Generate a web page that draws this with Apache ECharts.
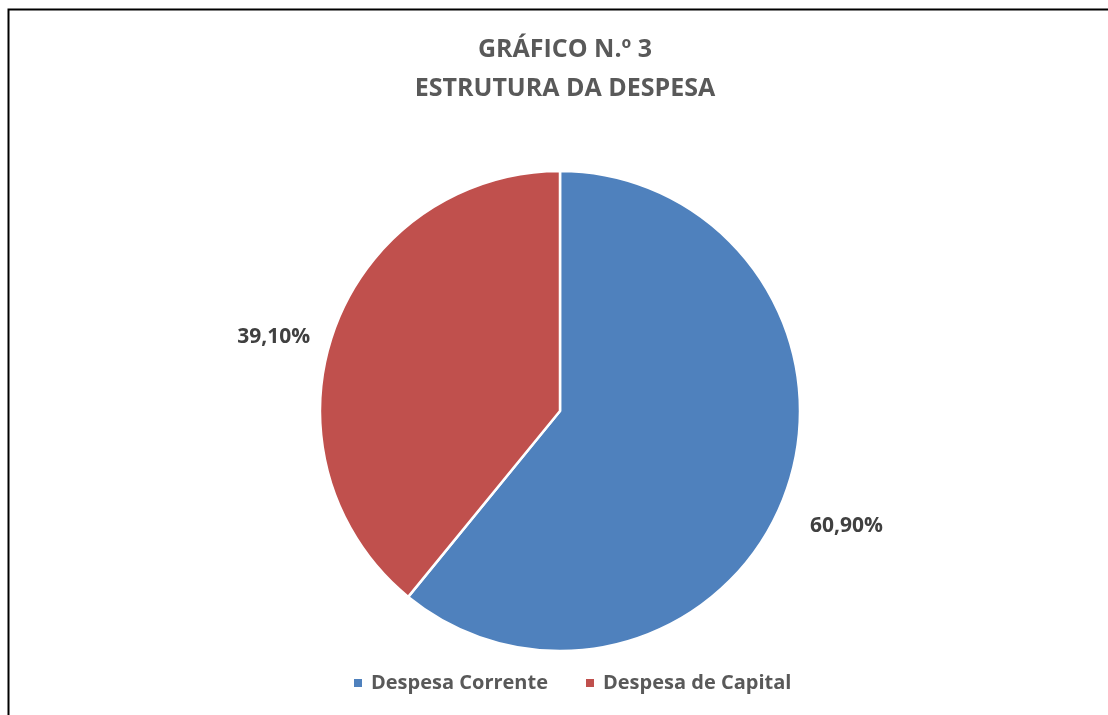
<!DOCTYPE html>
<html>
<head>
<meta charset="utf-8">
<script src="https://cdn.jsdelivr.net/npm/echarts@6/dist/echarts.min.js"></script>
<style>
html,body{margin:0;padding:0;background:#fff;}
#chart{width:1108px;height:715px;}
</style>
</head>
<body>
<div id="chart"></div>
<script>
const titleLines = ['GRÁFICO N.º 3', 'ESTRUTURA DA DESPESA'];
const categories = ['Despesa Corrente', 'Despesa de Capital'];
const values = [60.90, 39.10];
const colors = ['#4F81BD', '#C0504D'];

const chart = echarts.init(document.getElementById('chart'));
const FONT = 'Open Sans';
chart.setOption({
  backgroundColor: '#fff',
  animation: false,
  graphic: [{
    type: 'rect',
    shape: { x: 8.5, y: 9.5, width: 1300, height: 900 },
    style: { fill: 'none', stroke: '#000', lineWidth: 2 },
    silent: true
  }],
  title: {
    text: titleLines.join('\n'),
    left: 560, textAlign: 'center',
    top: 25,
    textStyle: { fontFamily: FONT, fontWeight: 'bold', fontSize: 25, color: '#595959', lineHeight: 39 }
  },
  legend: {
    bottom: 17,
    left: 347,
    itemGap: 36,
    itemWidth: 10,
    itemHeight: 10,
    icon: 'rect',
    textStyle: { fontFamily: FONT, fontWeight: 'bold', fontSize: 20, color: '#595959', padding: [0, 0, 0, 3] },
    data: categories
  },
  series: [{
    type: 'pie',
    center: [560, 411],
    radius: [0, 240],
    startAngle: 90,
    clockwise: true,
    avoidLabelOverlap: false,
    itemStyle: { borderColor: '#fff', borderWidth: 2.5 },
    label: {
      show: true,
      position: 'outside',
      fontFamily: FONT, fontWeight: 'bold', fontSize: 21, color: '#404040',
      formatter: p => p.value.toFixed(2).replace('.', ',') + '%'
    },
    labelLine: { show: false, length: 20, length2: 0 },
    labelLayout: p => ({ dy: p.dataIndex === 0 ? 28 : 13 }),
    data: categories.map((c, i) => ({ name: c, value: values[i], itemStyle: { color: colors[i] } }))
  }]
});
</script>
</body>
</html>
